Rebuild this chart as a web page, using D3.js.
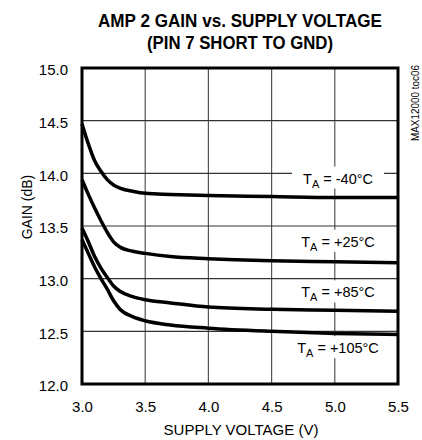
<!DOCTYPE html>
<html><head><meta charset="utf-8">
<script src="https://cdn.jsdelivr.net/npm/d3@7"></script>
<style>body{margin:0;background:#fff}svg{display:block}text{font-family:"Liberation Sans",Arial,sans-serif}</style>
</head><body><svg id="c" width="422" height="440"></svg>
<script>
const xTicks = [3.0, 3.5, 4.0, 4.5, 5.0, 5.5];
const yTicks = [12.0, 12.5, 13.0, 13.5, 14.0, 14.5, 15.0];
const voltage = [3.0, 3.05, 3.1, 3.15, 3.2, 3.25, 3.3, 3.4, 3.5, 3.7, 4.0, 4.5, 5.0, 5.5];
const gainM40 = [14.47, 14.28, 14.12, 14.02, 13.94, 13.89, 13.86, 13.83, 13.81, 13.80, 13.79, 13.78, 13.77, 13.77];
const gainP25 = [13.94, 13.80, 13.67, 13.55, 13.44, 13.35, 13.30, 13.26, 13.24, 13.21, 13.19, 13.17, 13.16, 13.15];
const gainP85 = [13.48, 13.35, 13.21, 13.10, 13.01, 12.93, 12.88, 12.83, 12.80, 12.77, 12.73, 12.71, 12.70, 12.69];
const gainP105 = [13.37, 13.24, 13.11, 13.00, 12.90, 12.79, 12.71, 12.64, 12.60, 12.56, 12.53, 12.50, 12.48, 12.47];
const labels = ["-40°C", "+25°C", "+85°C", "+105°C"];
const labelGain = [13.95, 13.35, 12.87, 12.34];

const svg = d3.select("#c");
const m = {l: 82, r: 398, t: 68, b: 384};
const x = d3.scaleLinear().domain([3.0, 5.5]).range([m.l, m.r]);
const y = d3.scaleLinear().domain([12.0, 15.0]).range([m.b, m.t]);

// title
svg.append("text").attr("x", 240).attr("y", 27).attr("text-anchor", "middle")
  .attr("font-size", 17.5).attr("font-weight", "bold")
  .attr("textLength", 284).attr("lengthAdjust", "spacingAndGlyphs").text("AMP 2 GAIN vs. SUPPLY VOLTAGE");
svg.append("text").attr("x", 240).attr("y", 49).attr("text-anchor", "middle")
  .attr("font-size", 17.5).attr("font-weight", "bold")
  .attr("textLength", 186).attr("lengthAdjust", "spacingAndGlyphs").text("(PIN 7 SHORT TO GND)");

// grid
svg.append("g").selectAll("line").data(xTicks.slice(1, -1)).join("line")
  .attr("x1", d => x(d)).attr("x2", d => x(d)).attr("y1", m.t).attr("y2", m.b)
  .attr("stroke", "#555").attr("stroke-width", 1.2);
svg.append("g").selectAll("line").data(yTicks.slice(1, -1)).join("line")
  .attr("y1", d => y(d)).attr("y2", d => y(d)).attr("x1", m.l).attr("x2", m.r)
  .attr("stroke", "#333").attr("stroke-width", 1.2);

// label backgrounds & labels
const lg = svg.append("g");
labels.forEach((t, i) => {
  const cx = 338, cy = y(labelGain[i]);
  lg.append("rect").attr("x", cx - 46).attr("y", cy - 12).attr("width", 92).attr("height", 22).attr("fill", "#fff");
  const tx = lg.append("text").attr("x", cx).attr("y", cy + 5).attr("text-anchor", "middle").attr("font-size", 14.5);
  tx.append("tspan").text("T");
  tx.append("tspan").attr("font-size", 11).attr("dy", 4).text("A");
  tx.append("tspan").attr("dy", -4).text(" = " + t);
});

// curves
const line = d3.line().x((d, i) => x(voltage[i])).y(d => y(d)).curve(d3.curveMonotoneX);
[gainM40, gainP25, gainP85, gainP105].forEach(s => {
  svg.append("path").attr("d", line(s)).attr("fill", "none").attr("stroke", "#000").attr("stroke-width", 3.5);
});

// frame
svg.append("rect").attr("x", m.l).attr("y", m.t).attr("width", m.r - m.l).attr("height", m.b - m.t)
  .attr("fill", "none").attr("stroke", "#000").attr("stroke-width", 3);

// axes
const xa = svg.append("g").attr("transform", `translate(0,${m.b})`)
  .call(d3.axisBottom(x).tickValues(xTicks).tickFormat(d3.format(".1f")).tickSize(0).tickPadding(17));
xa.select(".domain").remove();
xa.selectAll("text").attr("font-size", 15).attr("fill", "#000").attr("font-family", "Liberation Sans, Arial, sans-serif");
const ya = svg.append("g").attr("transform", `translate(${m.l},2)`)
  .call(d3.axisLeft(y).tickValues(yTicks).tickFormat(d3.format(".1f")).tickSize(0).tickPadding(14));
ya.select(".domain").remove();
ya.selectAll("text").attr("font-size", 15).attr("fill", "#000").attr("font-family", "Liberation Sans, Arial, sans-serif");

svg.append("text").attr("x", 241).attr("y", 435).attr("text-anchor", "middle").attr("font-size", 15).text("SUPPLY VOLTAGE (V)");
svg.append("text").attr("transform", "translate(32,207) rotate(-90)").attr("text-anchor", "middle").attr("font-size", 14).text("GAIN (dB)");
svg.append("text").attr("transform", "translate(419,65) rotate(-90)").attr("text-anchor", "end").attr("font-size", 10)
  .attr("textLength", 76).attr("lengthAdjust", "spacingAndGlyphs").text("MAX12000 toc06");
</script></body></html>
